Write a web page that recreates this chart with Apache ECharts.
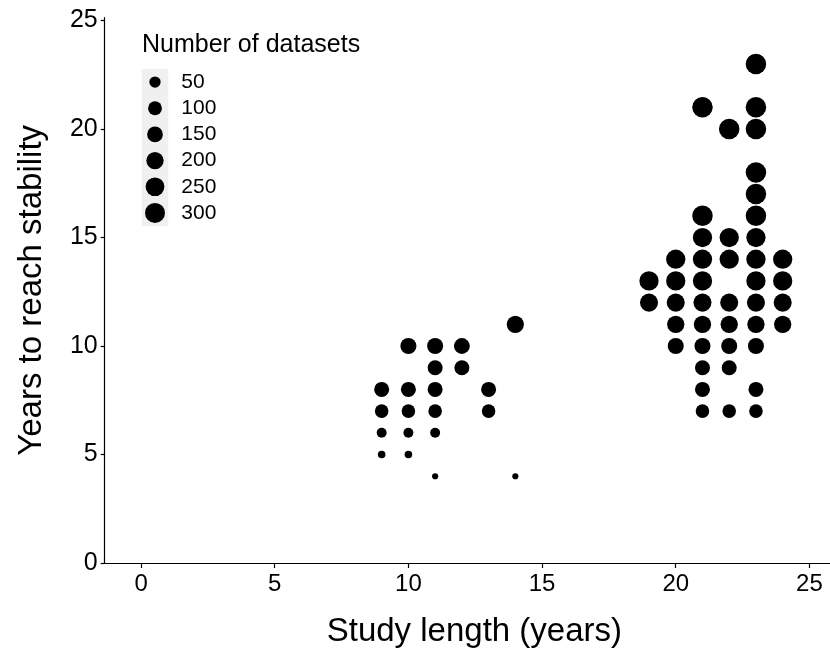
<!DOCTYPE html>
<html>
<head>
<meta charset="utf-8">
<script src="https://cdn.jsdelivr.net/npm/echarts@6/dist/echarts.min.js"></script>
<style>
  html, body { margin: 0; padding: 0; background: #fff; }
  #chart { width: 830px; height: 653px; }
</style>
</head>
<body>
<div id="chart"></div>
<script>
// one entry per dot: study length, years to stability, number of datasets
const studyLength = [
  9, 9, 9, 9,
  10, 10, 10, 10, 10,
  11, 11, 11, 11, 11, 11,
  12, 12,
  13, 13,
  14, 14,
  19, 19,
  20, 20, 20, 20, 20,
  21, 21, 21, 21, 21, 21, 21, 21, 21, 21, 21,
  22, 22, 22, 22, 22, 22, 22, 22,
  23, 23, 23, 23, 23, 23, 23, 23, 23, 23, 23, 23, 23, 23,
  24, 24, 24, 24
];
const yearsToStability = [
  8, 7, 6, 5,
  10, 8, 7, 6, 5,
  10, 9, 8, 7, 6, 4,
  10, 9,
  8, 7,
  11, 4,
  13, 12,
  14, 13, 12, 11, 10,
  21, 16, 15, 14, 13, 12, 11, 10, 9, 8, 7,
  20, 15, 14, 12, 11, 10, 9, 7,
  23, 21, 20, 18, 17, 16, 15, 14, 13, 12, 11, 10, 8, 7,
  14, 13, 12, 11
];
const nDatasets = [
  130, 95, 30, 7,
  160, 130, 95, 30, 7,
  160, 130, 130, 95, 30, 1,
  155, 130,
  130, 95,
  195, 1,
  270, 225,
  270, 270, 225, 200, 160,
  320, 320, 270, 270, 270, 225, 200, 160, 130, 130, 95,
  320, 270, 270, 225, 200, 160, 130, 95,
  320, 320, 320, 320, 320, 320, 270, 270, 270, 225, 200, 160, 130, 95,
  270, 270, 225, 200
];

const xTicks = [0, 5, 10, 15, 20, 25];
const yTicks = [0, 5, 10, 15, 20, 25];
const legendBreaks = [50, 100, 150, 200, 250, 300];

const FONT = "'Liberation Sans', Arial, sans-serif";
const dotSize = v => 5.3 + 0.85 * Math.sqrt(v[2]);

const points = studyLength.map((x, i) => [x, yearsToStability[i], nDatasets[i]]);

const chart = echarts.init(document.getElementById('chart'));

chart.setOption({
  animation: false,
  title: {
    text: 'Number of datasets',
    left: 142,
    top: 33,
    padding: 0,
    textStyle: { fontFamily: FONT, fontSize: 25, fontWeight: 'normal', color: '#000' }
  },
  grid: [
    { left: 104.7, right: 0, top: 17.7, bottom: 88.7 },
    // legend key box
    { left: 141.7, width: 26.6, top: 69, height: 157, show: true,
      backgroundColor: '#f0f0f0', borderWidth: 0 }
  ],
  xAxis: [
    {
      gridIndex: 0,
      type: 'value',
      min: -1.36,
      max: 25.77,
      name: 'Study length (years)',
      nameLocation: 'middle',
      nameGap: 52,
      nameTextStyle: { fontFamily: FONT, fontSize: 33, color: '#000', padding: [0, 0, 0, 14] },
      axisLine: { onZero: false, lineStyle: { color: '#000', width: 1.2 } },
      axisTick: { show: true, length: 5, customValues: xTicks, lineStyle: { color: '#000', width: 1.2 } },
      axisLabel: { customValues: xTicks, margin: 9, fontFamily: FONT, fontSize: 24, color: '#000' },
      splitLine: { show: false }
    },
    {
      gridIndex: 1,
      type: 'value',
      min: -1,
      max: 1,
      show: false
    }
  ],
  yAxis: [
    {
      gridIndex: 0,
      type: 'value',
      min: 0,
      max: 25.13,
      name: 'Years to reach stability',
      nameLocation: 'middle',
      nameGap: 56,
      nameTextStyle: { fontFamily: FONT, fontSize: 33, color: '#000' },
      axisLine: { show: true, onZero: false, lineStyle: { color: '#000', width: 1.2 } },
      axisTick: { show: true, length: 4, customValues: yTicks, lineStyle: { color: '#000', width: 1.2 } },
      axisLabel: { customValues: yTicks, margin: 7, fontFamily: FONT, fontSize: 25, color: '#000' },
      splitLine: { show: false }
    },
    {
      gridIndex: 1,
      type: 'category',
      inverse: true,
      position: 'right',
      data: legendBreaks.map(String),
      axisLine: { show: false },
      axisTick: { show: false },
      axisLabel: { interval: 0, margin: 13, align: 'left', fontFamily: FONT, fontSize: 21, color: '#000' },
      splitLine: { show: false }
    }
  ],
  series: [
    {
      type: 'scatter',
      xAxisIndex: 0,
      yAxisIndex: 0,
      data: points,
      symbolSize: dotSize,
      itemStyle: { color: '#000', opacity: 1 },
      silent: true
    },
    {
      type: 'scatter',
      xAxisIndex: 1,
      yAxisIndex: 1,
      data: legendBreaks.map(b => [0, String(b), b]),
      symbolSize: dotSize,
      itemStyle: { color: '#000', opacity: 1 },
      silent: true
    }
  ]
});
</script>
</body>
</html>
